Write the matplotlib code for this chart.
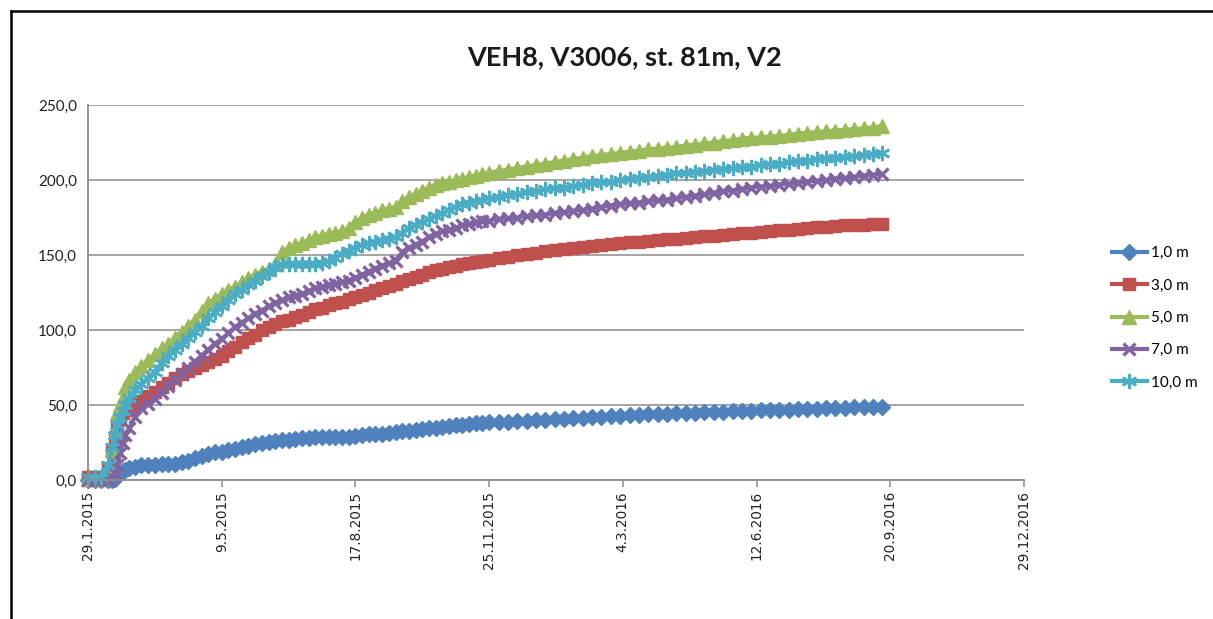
import matplotlib
matplotlib.use("Agg")
import matplotlib.pyplot as plt
from matplotlib.lines import Line2D
from matplotlib.ticker import FuncFormatter
import pandas as pd

# ---------------- data ----------------
title = "VEH8, V3006, st. 81m, V2"
start_date = "2015-01-29"
end_date = "2016-12-29"
series_names = ["1,0 m", "3,0 m", "5,0 m", "7,0 m", "10,0 m"]

# measurement day offsets from start_date
days = [0, 5, 10, 15, 18, 20, 22, 24, 26, 28, 31, 35, 40, 45, 50, 55, 60, 65, 70, 75,
        80, 85, 90, 95, 100, 105, 110, 115, 120, 125, 130, 135, 140, 145, 150, 155, 160,
        165, 170, 175, 180, 185, 190, 195, 200, 205, 210, 215, 220, 225, 230, 235, 240,
        245, 250, 255, 260, 265, 270, 275, 280, 285, 290, 295, 300,
        307, 314, 321, 328, 335, 342, 349, 356, 363, 370, 377, 384, 391, 398, 405, 412,
        419, 426, 433, 440, 447, 454, 461, 468, 475, 482, 489, 496, 503, 510, 517, 524,
        531, 538, 545, 552, 559, 566, 573, 580, 587, 594]

v_1m = [0, 0, 0, 0, 0, 1, 3, 5, 6, 7, 8, 9, 10, 10, 10, 10.5, 11, 11, 12, 13,
        15, 16, 17.5, 18.5, 19, 20, 21, 22, 23, 24, 24.5, 25.5, 26, 26.5, 27, 27.5, 28,
        28, 28.5, 28.5, 28.5, 29, 29, 29, 29.5, 30, 30.5, 31, 31, 31.5, 32, 32.5, 33,
        33.5, 34, 34.5, 35, 35.5, 36, 36.5, 37, 37.5, 38, 38, 38.5,
        38.7, 39, 39.3, 39.6, 40, 40.3, 40.6, 41, 41.3, 41.6, 42, 42.3, 42.6, 43, 43.2, 43.5,
        43.8, 44, 44.2, 44.5, 44.7, 45, 45.2, 45.4, 45.6, 45.8, 46, 46.2, 46.4, 46.6, 46.8, 47,
        47.2, 47.4, 47.6, 47.8, 48, 48.2, 48.4, 48.6, 48.8, 49]

v_3m = [2, 2, 2, 8, 20, 28, 36, 41, 45, 47, 49, 51, 53, 56, 59, 62, 65, 68, 71, 73,
        75, 77, 79, 81, 83, 86, 89, 92, 95, 97, 100, 102, 104, 106, 107, 109, 110,
        112, 114, 115, 117, 118, 119, 121, 122, 123.5, 125, 126.5, 128, 129.5, 131, 132.5, 134,
        135.5, 137, 138.5, 140, 141, 142, 143, 144, 145, 145.5, 146, 147,
        148, 149, 150, 151, 151.5, 152.5, 153.5, 154, 155, 155.5, 156, 157, 157.5, 158, 158.5, 159,
        159.5, 160, 160.5, 161, 161.5, 162, 162.5, 163, 163.5, 164, 164.5, 165, 165.5, 166, 166.5, 167,
        167.5, 168, 168.5, 169, 169.3, 169.7, 170, 170.3, 170.6, 171]

v_5m = [1, 1, 1, 5, 20, 32, 45, 50, 55, 62, 67, 72, 76, 80, 84, 88, 91, 95, 99, 103,
        107, 113, 118, 121, 124, 127, 129, 132, 135, 137, 139, 141, 144, 152, 155, 157, 158,
        160, 162, 163, 164, 165, 166, 168, 172, 175, 177, 178, 180, 181, 182, 186, 189,
        191, 193, 195, 197, 198, 199, 200, 201, 202, 203, 204, 205,
        206, 207, 208, 209, 210, 211, 212, 213, 214, 215, 216, 216.5, 217.5, 218, 219, 219.5,
        220.5, 221, 221.5, 222, 223, 223.5, 224.5, 225, 226, 226.5, 227.5, 228, 228.5, 229, 229.5, 230,
        231, 231.5, 232, 232.5, 233, 233.5, 234, 234.5, 235, 236]

v_7m = [0, 0, 0, 0, 2, 5, 10, 18, 25, 30, 35, 42, 48, 51, 54, 58, 63, 67, 71, 75,
        79, 83, 87, 91, 94, 98, 102, 105, 108, 111, 113, 116, 118, 120, 122, 123, 124,
        126, 128, 129, 130, 131, 132, 133, 135, 137, 139, 141, 143, 144.5, 146, 152, 155,
        157, 159, 162, 164, 166, 167, 168, 170, 171, 172, 172.5, 173,
        174, 174.5, 175, 176, 176.5, 177, 178, 178.5, 179.5, 180, 181, 182, 183, 184, 184.5, 185,
        186, 186.5, 187, 188, 188.5, 189.5, 190.5, 191.5, 192.5, 193, 194, 195, 195.5, 196, 197, 197.5,
        198, 199, 199.5, 200, 201, 201.5, 202, 203, 203.5, 204]

v_10m = [2, 2, 2, 10, 22, 30, 37, 42, 46, 50, 55, 60, 64, 68, 72, 78, 83, 87, 91, 95,
         99, 103, 108, 112, 116, 120, 124, 127, 130, 133, 136, 139, 142, 144, 144, 144, 144,
         144, 144, 145, 146, 148, 151, 153, 155, 157, 158, 159, 160, 161, 162, 165, 168,
         170, 172, 174, 176, 178, 180, 182, 184, 185, 186, 187, 188,
         189, 190, 191, 192, 193, 194, 194.5, 195, 196, 197, 198, 198.5, 199, 200, 201, 201.5,
         202, 203, 203.5, 204.5, 205, 205.5, 206, 207, 207.5, 208, 208.5, 209, 210, 210.5, 211, 212,
         212.5, 213, 214, 214.5, 215, 215.5, 216, 217, 217.5, 218]

y_ticks = [0, 50, 100, 150, 200, 250]
x_tick_step_days = 100

# ---------------- style ----------------
colors = ["#4F81BD", "#C0504D", "#9BBB59", "#8064A2", "#4BACC6"]
markers = ["D", "s", "^", "x", (6, 2, 0)]
msizes = [8, 8, 10.5, 9, 11]
mews = [1, 1, 1, 2.4, 1.8]

W, H = 1213, 619
fig = plt.figure(figsize=(W / 100, H / 100), dpi=100)
fig.patch.set_facecolor("white")

ax = fig.add_axes([88 / W, 1 - 480 / H, (1024 - 88) / W, (480 - 105) / H])

t0 = pd.Timestamp(start_date)
dates = [t0 + pd.Timedelta(days=d) for d in days]
all_series = [v_1m, v_3m, v_5m, v_7m, v_10m]
for vals in all_series:
    assert len(vals) == len(days)

handles = []
for name, vals, c, m, ms, mew in zip(series_names, all_series, colors, markers, msizes, mews):
    ln, = ax.plot(dates, vals, color=c, lw=3, marker=m, markersize=ms,
                  markerfacecolor=c, markeredgecolor=c, markeredgewidth=mew,
                  label=name, solid_joinstyle="round", clip_on=False)
    handles.append(ln)

ax.set_ylim(0, 250)
ax.set_xlim(t0, pd.Timestamp(end_date))
ax.set_yticks(y_ticks)
ax.yaxis.set_major_formatter(FuncFormatter(lambda v, p: f"{v:.1f}".replace(".", ",")))

xt = pd.date_range(t0, pd.Timestamp(end_date), freq=f"{x_tick_step_days}D")
ax.set_xticks(xt)
ax.set_xticklabels([f"{d.day}.{d.month}.{d.year}" for d in xt], rotation=90,
                   fontsize=9.8, family="DejaVu Sans", color="#222222")
for lab in ax.get_yticklabels():
    lab.set_family("Lato")
    lab.set_fontsize(11)
    lab.set_color("#222222")

ax.grid(axis="y", color="#8C8C8C", lw=1.1)
ax.set_axisbelow(True)
for s in ["top", "right"]:
    ax.spines[s].set_visible(False)
for s in ["left", "bottom"]:
    ax.spines[s].set_color("#8C8C8C")
    ax.spines[s].set_linewidth(1.3)
ax.tick_params(axis="x", direction="out", length=5, color="#8C8C8C", width=1.1, pad=3)
ax.tick_params(axis="y", direction="out", length=0, pad=8)

fig.text(625 / W, 1 - 57 / H, title, ha="center", va="center",
         fontsize=19.5, fontweight="bold", family="Lato", color="#1a1a1a")

leg = fig.legend(handles=handles, loc="center left",
                 bbox_to_anchor=(1104 / W, 1 - 318 / H), frameon=False,
                 prop={"family": "Lato", "size": 11}, handlelength=2.3,
                 handletextpad=0.3, labelspacing=1.2, borderpad=0)
for lh in leg.get_lines():
    lh.set_linewidth(3)

# outer frame (top and left edges visible)
fig.add_artist(Line2D([11 / W, 1.0], [1 - 11 / H, 1 - 11 / H], color="black", lw=1.8,
                      transform=fig.transFigure))
fig.add_artist(Line2D([11 / W, 11 / W], [1 - 11 / H, 0.0], color="black", lw=1.8,
                      transform=fig.transFigure))

fig.savefig("out.png", dpi=100, facecolor="white")
